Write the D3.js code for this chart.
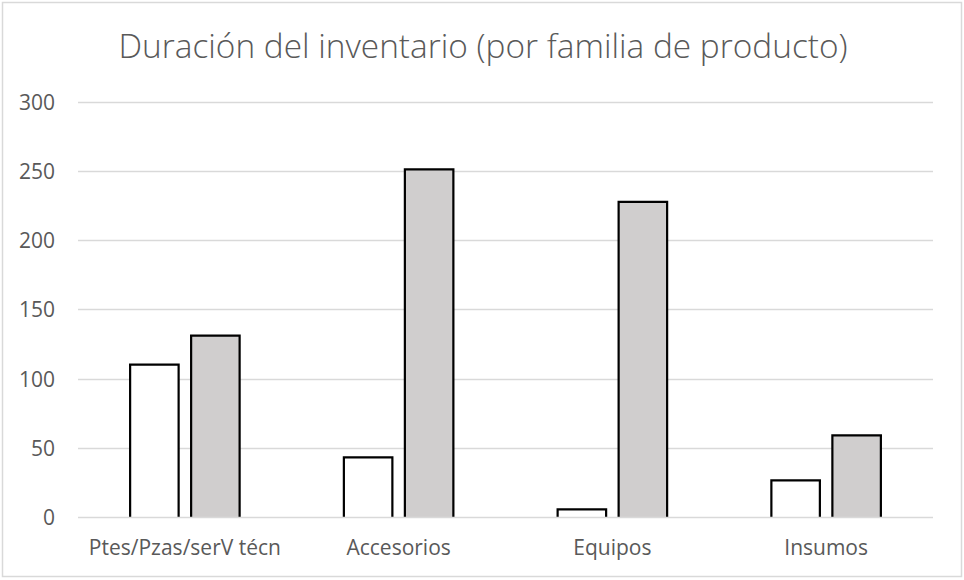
<!DOCTYPE html>
<html>
<head>
<meta charset="utf-8">
<script src="https://cdn.jsdelivr.net/npm/d3@7"></script>
<style>
  html, body { margin: 0; padding: 0; background: #fff; }
  svg { display: block; }
  text { font-family: "Open Sans", "Noto Sans", sans-serif; fill: #595959; }
</style>
</head>
<body>
<svg id="chart" width="964" height="580"></svg>
<script>
// Inventory duration by product family, two series per category
const categories = ["Ptes/Pzas/serV técn", "Accesorios", "Equipos", "Insumos"];
const seriesA = [110, 43, 5.5, 26.5];   // white bars
const seriesB = [131, 251, 227.5, 59];  // gray bars
const yTicks = [0, 50, 100, 150, 200, 250, 300];
const title = "Duración del inventario (por familia de producto)";

const W = 964, H = 580;
const margin = { left: 78, right: 31, top: 101.5, bottom: 63 };
const svg = d3.select("#chart");

// Chart frame
svg.append("rect")
  .attr("x", 2.5).attr("y", 2.5)
  .attr("width", W - 5).attr("height", 574)
  .attr("fill", "#fff").attr("stroke", "#d9d9d9").attr("stroke-width", 1.5);

const x0 = d3.scaleBand()
  .domain(categories)
  .range([margin.left, W - margin.right])
  .paddingInner(0).paddingOuter(0);

const y = d3.scaleLinear()
  .domain([0, 300])
  .range([H - margin.bottom, margin.top]);

// Gridlines
svg.append("g")
  .selectAll("line")
  .data(yTicks.filter(t => t !== 0))
  .join("line")
  .attr("x1", margin.left).attr("x2", W - margin.right)
  .attr("y1", d => Math.round(y(d)) + 0.5).attr("y2", d => Math.round(y(d)) + 0.5)
  .attr("stroke", "#d9d9d9").attr("stroke-width", 1.5);

// Y axis labels
const yAxis = d3.axisLeft(y).tickValues(yTicks).tickSize(0).tickPadding(23);
const gy = svg.append("g")
  .attr("transform", `translate(${margin.left},0)`)
  .call(yAxis);
gy.select(".domain").remove();
gy.selectAll("text")
  .style("font-size", "21px")
  .style("font-family", "'Open Sans', sans-serif")
  .attr("fill", "#595959")
  .attr("dy", "0.36em");

// Bars: two per category, drawn with open bottom edge
const barW = 48.5, innerGap = 12.5;
const series = [
  { values: seriesA, fill: "#ffffff", offset: -(barW + innerGap) / 2 },
  { values: seriesB, fill: "#d0cece", offset: (barW + innerGap) / 2 }
];
const base = y(0);
series.forEach(s => {
  svg.append("g")
    .selectAll("path")
    .data(categories.map((c, i) => ({ c, v: s.values[i] })))
    .join("path")
    .attr("d", d => {
      const cx = x0(d.c) + x0.bandwidth() / 2 + s.offset;
      const l = cx - barW / 2, r = cx + barW / 2, t = y(d.v);
      return `M${l},${base}L${l},${t}L${r},${t}L${r},${base}`;
    })
    .attr("fill", s.fill)
    .attr("stroke", "#000")
    .attr("stroke-width", 2.2);
});

// Category axis line
svg.append("line")
  .attr("x1", margin.left).attr("x2", W - margin.right)
  .attr("y1", Math.round(base) + 0.5).attr("y2", Math.round(base) + 0.5)
  .attr("stroke", "#d9d9d9").attr("stroke-width", 1.5);

// Category labels
const xAxis = d3.axisBottom(x0).tickSize(0).tickPadding(0);
const gx = svg.append("g")
  .attr("transform", `translate(0,${base})`)
  .call(xAxis);
gx.select(".domain").remove();
gx.selectAll("text")
  .style("font-size", "21px")
  .style("font-family", "'Open Sans', sans-serif")
  .attr("fill", "#595959")
  .attr("dy", null)
  .attr("y", 554.5 - base);

// Title
svg.append("text")
  .attr("x", 483)
  .attr("y", 57.7)
  .attr("text-anchor", "middle")
  .style("font-size", "33.4px")
  .style("font-family", "'Open Sans', sans-serif")
  .style("font-weight", 300)
  .text(title);
</script>
</body>
</html>
